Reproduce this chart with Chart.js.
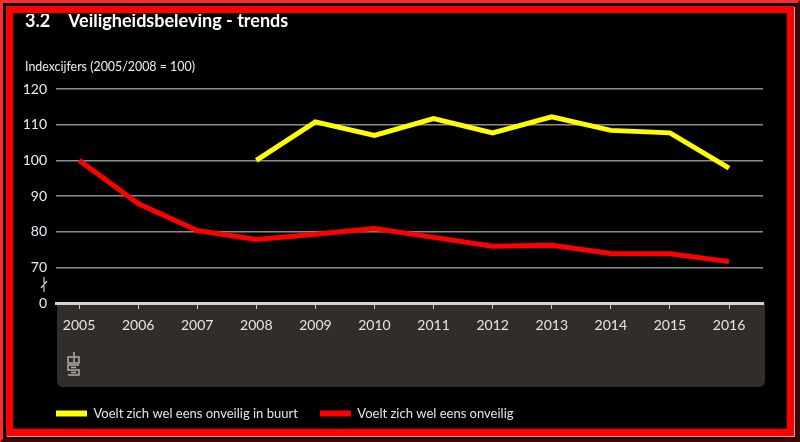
<!DOCTYPE html>
<html>
<head>
<meta charset="utf-8">
<script src="https://cdn.jsdelivr.net/npm/chart.js@4/dist/chart.umd.min.js"></script>
<style>
  html, body { margin: 0; padding: 0; background: #000; overflow: hidden; }
  #wrap { position: relative; width: 800px; height: 442px; }
  #frame {
    position: absolute; left: 0; top: 0; width: 800px; height: 442px; box-sizing: border-box;
    border: 3px solid; border-color: #ff2a2a #4a0000 #4a0000 #ff2a2a;
    pointer-events: none;
  }
  #frame2 {
    position: absolute; left: 3px; top: 3px; right: 3px; bottom: 3px;
    border: 7px solid #ff0000; box-shadow: inset 0 0 0 1px #300000, 1px 1px 0 0 #ff8a8a;
  }
  #title {
    position: absolute; left: 25px; top: 9px; color: #fff; white-space: nowrap;
    font: bold 18px Lato, sans-serif;
  }
  #title span { display: inline-block; width: 43px; }
  #unit {
    position: absolute; left: 25px; top: 59px; color: #eee; white-space: nowrap;
    font: 12.4px Lato, sans-serif;
  }
  canvas { position: absolute; left: 0; top: 0; }
</style>
</head>
<body>
<div id="wrap">
  <canvas id="chart" width="800" height="442"></canvas>
  <div id="title"><span>3.2</span>Veiligheidsbeleving - trends</div>
  <div id="unit">Indexcijfers (2005/2008 = 100)</div>
  <div id="frame"><div id="frame2"></div></div>
</div>
<script>
const years = [2005, 2006, 2007, 2008, 2009, 2010, 2011, 2012, 2013, 2014, 2015, 2016];
const onveiligBuurt = [null, null, null, 100, 110.8, 107.0, 111.7, 107.7, 112.2, 108.4, 107.7, 97.8];
const onveilig = [100, 87.9, 80.3, 77.8, 79.3, 80.9, 78.4, 75.9, 76.2, 73.9, 73.8, 71.6];
const yTicks = [60, 70, 80, 90, 100, 110, 120];
const yTickLabels = ["0", "70", "80", "90", "100", "110", "120"];

const font = "Lato, sans-serif";
const yellow = "#ffff00";
const red = "#ff0000";

function points(values) {
  return years.map((yr, i) => ({ x: yr, y: values[i] }));
}

// grey panel under the x axis, axis break mark and cbs logo
const decor = {
  id: "decor",
  afterLayout(chart) {
    // legend starts under the plot's left edge
    chart.legend.left += 14;
  },
  beforeDraw(chart) {
    const ctx = chart.ctx;
    const a = chart.chartArea;
    ctx.save();
    ctx.fillStyle = "#322d2a";
    ctx.beginPath();
    ctx.roundRect(a.left + 1, a.bottom, a.right - a.left + 1, 84, [0, 0, 6, 6]);
    ctx.fill();
    ctx.restore();
  },
  afterDraw(chart) {
    const ctx = chart.ctx;
    ctx.save();
    ctx.strokeStyle = "#cfcfcf";
    ctx.lineWidth = 1.2;
    ctx.beginPath();
    ctx.moveTo(44, 277); ctx.lineTo(44, 283);
    ctx.moveTo(47, 281); ctx.lineTo(41, 288);
    ctx.moveTo(44, 286); ctx.lineTo(44, 292);
    ctx.stroke();
    // cbs logo
    ctx.strokeStyle = "#b0adaa";
    ctx.lineWidth = 1.5;
    ctx.beginPath();
    ctx.moveTo(73, 357); ctx.lineTo(68, 357); ctx.lineTo(68, 363); ctx.lineTo(73, 363);
    ctx.moveTo(74, 352); ctx.lineTo(74, 363); ctx.lineTo(79, 363); ctx.lineTo(79, 357); ctx.lineTo(74, 357);
    ctx.moveTo(79, 365); ctx.lineTo(68, 365); ctx.lineTo(68, 370); ctx.lineTo(79, 370); ctx.lineTo(79, 375); ctx.lineTo(68, 375);
    ctx.moveTo(76, 367.5); ctx.lineTo(71, 367.5);
    ctx.moveTo(71, 372.5); ctx.lineTo(76, 372.5);
    ctx.stroke();
    ctx.restore();
  }
};

new Chart(document.getElementById("chart"), {
  type: "line",
  data: {
    datasets: [
      {
        label: "Voelt zich wel eens onveilig in buurt",
        data: points(onveiligBuurt),
        borderColor: yellow,
        backgroundColor: yellow,
        borderWidth: 5,
        pointRadius: 0,
        tension: 0,
      },
      {
        label: "Voelt zich wel eens onveilig",
        data: points(onveilig),
        borderColor: red,
        backgroundColor: red,
        borderWidth: 5,
        pointRadius: 0,
        tension: 0,
      },
    ],
  },
  options: {
    responsive: false,
    animation: false,
    layout: { padding: { left: 20, right: 37, top: 89, bottom: 12 } },
    scales: {
      x: {
        type: "linear",
        min: 2004.61,
        max: 2016.575,
        afterBuildTicks: (axis) => { axis.ticks = years.map((v) => ({ value: v })); },
        afterFit: (axis) => { axis.height = 82; },
        grid: { drawOnChartArea: false, drawTicks: true, tickLength: 6, color: "#c8c8c8", lineWidth: 1 },
        border: { display: true, color: "#d6d2ce", width: 3 },
        ticks: {
          color: "#e6e6e6",
          font: { family: font, size: 14 },
          padding: 8,
          maxRotation: 0,
          callback: (v) => String(v),
        },
      },
      y: {
        min: 60,
        max: 120,
        afterBuildTicks: (axis) => { axis.ticks = yTicks.map((v) => ({ value: v })); },
        afterFit: (axis) => { axis.width = 36; },
        grid: {
          drawTicks: false,
          color: (c) => (c.tick && c.tick.value === 60 ? "rgba(0,0,0,0)" : "#8c8c8c"),
          lineWidth: 1.5,
        },
        border: { display: false },
        ticks: {
          color: "#e6eef6",
          font: { family: font, size: 14 },
          padding: 9,
          callback: (v) => yTickLabels[yTicks.indexOf(v)],
        },
      },
    },
    plugins: {
      legend: {
        position: "bottom",
        align: "start",
        labels: {
          color: "#e6e6e6",
          font: { family: font, size: 13 },
          boxWidth: 31,
          boxHeight: 6,
          padding: 22,
          generateLabels: (chart) =>
            Chart.defaults.plugins.legend.labels.generateLabels(chart).map((l) => ({ ...l, lineWidth: 0 })),
        },
      },
      tooltip: { enabled: false },
    },
  },
  plugins: [decor],
});
</script>
</body>
</html>
